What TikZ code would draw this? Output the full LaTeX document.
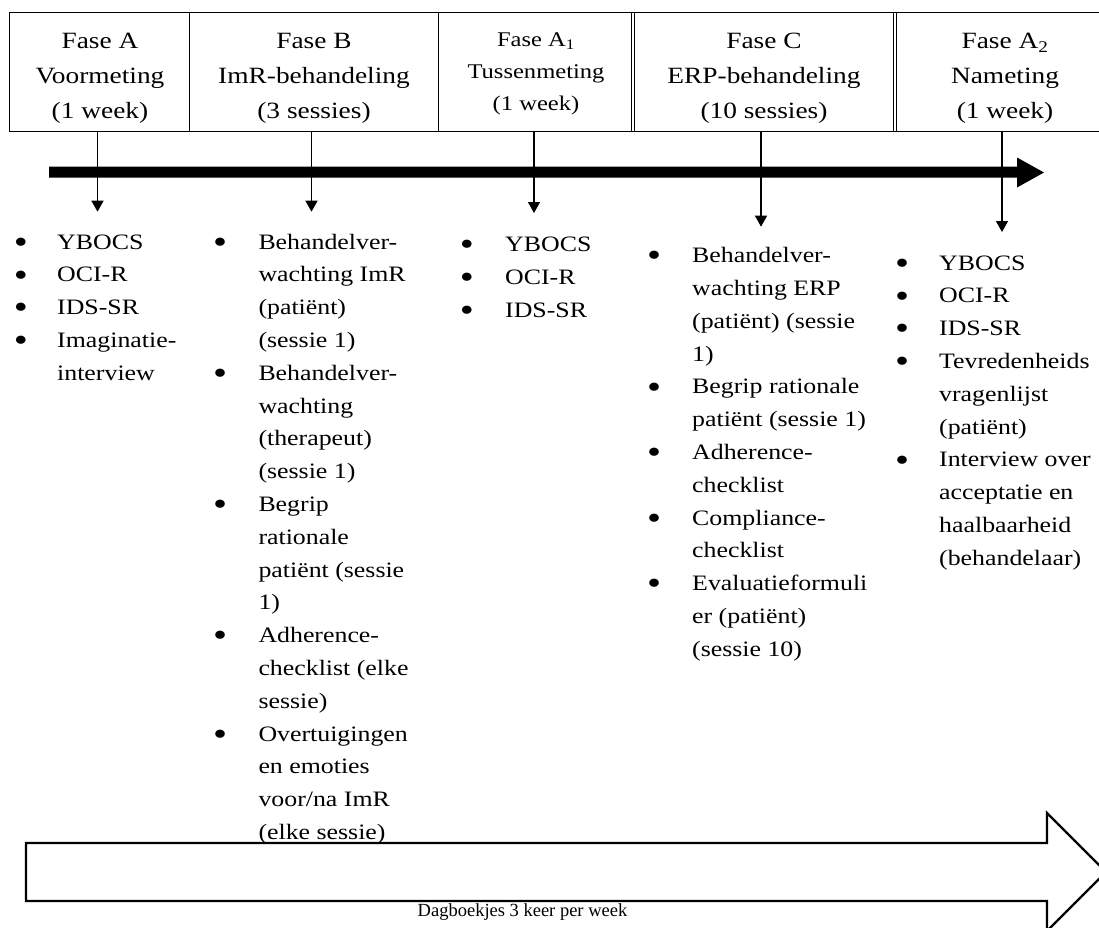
\documentclass[tikz,border=0pt]{standalone}
\usepackage{fontspec}
\setmainfont{Liberation Serif}[FakeStretch=1.175]
\newfontfamily\dagfont{Liberation Serif}
\usetikzlibrary{arrows.meta}
\newcommand{\itemcol}[2]{\begin{tabular}[t]{@{}p{#1}@{}l@{}}#2\end{tabular}}
\newcommand{\headcell}[1]{\begin{tabular}[t]{@{}c@{}}#1\end{tabular}}
\newcommand{\bul}{\makebox[0pt][c]{\raisebox{-4.2pt}{\scalebox{1.55}{•}}}}
\begin{document}
\begin{tikzpicture}[x=1pt,y=-1pt,
  headtext/.style={anchor=base,inner sep=0pt,font=\fontsize{23.3}{35}\selectfont},
  headsmall/.style={anchor=base,inner sep=0pt,font=\fontsize{20.9}{31.7}\selectfont},
  listtext/.style={anchor=base west,inner sep=0pt,font=\fontsize{22}{32.8}\selectfont},
  frame/.style={line width=1.3pt},
  dframe/.style={line width=1pt},
  drop/.style={line width=1.4pt,-{Triangle[width=12pt,length=11pt]}},
  timeline/.style={fill=black},
  bigarrow/.style={line width=2.3pt,line join=miter,fill=white},
  dag/.style={anchor=base,inner sep=0pt,font=\dagfont\fontsize{18.5}{20}\selectfont}]
\useasboundingbox (0,0) rectangle (1099,927);

% header frame
\draw[frame] (1112,12.7) -- (9.8,12.7) -- (9.8,131.7) -- (1112,131.7);
\draw[frame] (189.4,12.7) -- (189.4,131.7);
\draw[frame] (438.4,12.7) -- (438.4,131.7);
\draw[dframe] (631.8,12.7) -- (631.8,131.7);
\draw[dframe] (634.8,12.7) -- (634.8,131.7);
\draw[dframe] (893.5,12.7) -- (893.5,131.7);
\draw[dframe] (896.5,12.7) -- (896.5,131.7);

% header texts
\node[headtext] (hA) at (100,48.3) {\headcell{Fase A\\Voormeting\\(1 week)}};
\node[headtext] (hB) at (314,48.3) {\headcell{Fase B\\ImR-behandeling\\(3 sessies)}};
\node[headsmall] (hA1) at (536,46.7) {\headcell{Fase A\textsubscript{1}\\Tussenmeting\\(1 week)}};
\node[headtext] (hC) at (764,48.3) {\headcell{Fase C\\ERP-behandeling\\(10 sessies)}};
\node[headtext] (hA2) at (1005,48.3) {\headcell{Fase A\textsubscript{2}\\Nameting\\(1 week)}};

% time line
\fill[timeline] (49,166.5) -- (1017,166.5) -- (1017,157.5) -- (1044,172.5)
  -- (1017,187.5) -- (1017,177.5) -- (49,177.5) -- cycle;

% drop arrows
\coordinate (sA) at (97.5,131.7);  \coordinate (eA) at (97.5,211.7);
\coordinate (sB) at (311.5,131.7); \coordinate (eB) at (311.5,211.7);
\coordinate (sA1) at (534,131.7);  \coordinate (eA1) at (534,213);
\coordinate (sC) at (761,131.7);   \coordinate (eC) at (761,226.7);
\coordinate (sA2) at (1002,131.7); \coordinate (eA2) at (1002,232);
\draw[drop] (sA) -- (eA);
\draw[drop] (sB) -- (eB);
\draw[drop] (sA1) -- (eA1);
\draw[drop] (sC) -- (eC);
\draw[drop] (sA2) -- (eA2);

% lists
\node[listtext] (lA) at (20.7,249) {\itemcol{36.3pt}{%
\bul&YBOCS\\
\bul&OCI-R\\
\bul&IDS-SR\\
\bul&Imaginatie-\\
&interview}};

\node[listtext] (lB) at (220,249) {\itemcol{38.3pt}{%
\bul&Behandelver-\\
&wachting ImR\\
&(patiënt)\\
&(sessie 1)\\
\bul&Behandelver-\\
&wachting\\
&(therapeut)\\
&(sessie 1)\\
\bul&Begrip\\
&rationale\\
&patiënt (sessie\\
&1)\\
\bul&Adherence-\\
&checklist (elke\\
&sessie)\\
\bul&Overtuigingen\\
&en emoties\\
&voor/na ImR\\
&(elke sessie)}};

\node[listtext] (lA1) at (466.7,251.7) {\itemcol{38.3pt}{%
\bul&YBOCS\\
\bul&OCI-R\\
\bul&IDS-SR}};

\node[listtext] (lC) at (654,262.7) {\itemcol{38pt}{%
\bul&Behandelver-\\
&wachting ERP\\
&(patiënt) (sessie\\
&1)\\
\bul&Begrip rationale\\
&patiënt (sessie 1)\\
\bul&Adherence-\\
&checklist\\
\bul&Compliance-\\
&checklist\\
\bul&Evaluatieformuli\\
&er (patiënt)\\
&(sessie 10)}};

\node[listtext] (lA2) at (902,270) {\itemcol{37pt}{%
\bul&YBOCS\\
\bul&OCI-R\\
\bul&IDS-SR\\
\bul&Tevredenheids\\
&vragenlijst\\
&(patiënt)\\
\bul&Interview over\\
&acceptatie en\\
&haalbaarheid\\
&(behandelaar)}};

% diary arrow
\draw[bigarrow] (26,843) -- (1047,843) -- (1047,813) -- (1106,872)
  -- (1047,931) -- (1047,901) -- (26,901) -- cycle;
\node[dag] (diary) at (522.5,916.7) {Dagboekjes 3 keer per week};
\end{tikzpicture}
\end{document}
